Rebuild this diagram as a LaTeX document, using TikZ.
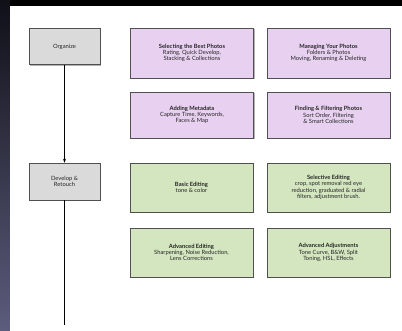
\documentclass[tikz,border=0pt]{standalone}
\usepackage{fontspec}
\setmainfont{Lato}
\usetikzlibrary{arrows.meta,shadows}
\definecolor{stagegray}{HTML}{DADADA}
\definecolor{organizepurple}{HTML}{E8D0F0}
\definecolor{developgreen}{HTML}{D3E6BF}
\definecolor{boxline}{HTML}{505050}
\definecolor{striptop}{HTML}{101018}
\definecolor{stripbottom}{HTML}{5C5C7C}
\begin{document}
\begin{tikzpicture}[x=1pt,y=1pt,yscale=-1,
	box/.style={draw=boxline,line width=0.6pt,inner sep=1pt,align=center,text=black!85,
		font=\fontsize{5.8}{6.3}\selectfont,
		drop shadow={shadow xshift=1.4pt,shadow yshift=-1.4pt,opacity=0.6}},
	stagebox/.style={box,fill=stagegray,minimum width=71pt,minimum height=36pt},
	organizebox/.style={box,fill=organizepurple,minimum width=123pt,minimum height=48pt},
	developbox/.style={box,fill=developgreen,minimum width=123pt,minimum height=49pt}]
			%set diagram frame: black screen, blue-grey strip at the left, white slide
			\fill [black] (0,0) rectangle (402,331);
			\shade [top color=striptop,bottom color=stripbottom] (0,0) rectangle (10,331);
			\fill [white] (10,6) rectangle (402,331);
			
			% Stage Nodes
			\node [stagebox] (organize) at (64.5,46.5) {Organize};
			\node [stagebox,minimum height=37pt] (develop) at (64.5,181.5) {Develop \&\\Retouch};
			\coordinate (timelineend) at (64.5,325);
			
			% Organize Nodes
			\node [organizebox,minimum height=50pt] (selecting) at (192,53) {\textbf{Selecting the Best Photos}\\Rating, Quick Develop,\\Stacking \& Collections};
			\node [organizebox,minimum height=50pt] (managing) at (328.5,53) {\textbf{Managing Your Photos}\\Folders \& Photos\\Moving, Renaming \& Deleting};
			\node [organizebox,minimum height=46pt] (metadata) at (192,115) {\textbf{Adding Metadata}\\Capture Time, Keywords,\\Faces \& Map};
			\node [organizebox,minimum height=46pt] (finding) at (328.5,115) {\textbf{Finding \& Filtering Photos}\\Sort Order, Filtering\\\& Smart Collections};
			
			% Develop Nodes
			\node [developbox] (basic) at (191.5,187.5) {\textbf{Basic Editing}\\tone \& color};
			\node [developbox] (selective) at (328.5,187.5) {\textbf{Selective Editing}\\crop, spot removal red eye\\reduction, graduated \& radial\\filters, adjustment brush.};
			\node [developbox] (advediting) at (191.5,252.5) {\textbf{Advanced Editing}\\Sharpening, Noise Reduction,\\Lens Corrections};
			\node [developbox] (advadjust) at (328.5,252.5) {\textbf{Advanced Adjustments}\\Tone Curve, B\&W, Split\\Toning, HSL, Effects};
			
			%Straight Lines
			\draw [line width=0.8pt,-{Stealth[length=4pt,width=3pt]}] (organize) -- (develop);
			%Straight Lines
			\draw [line width=0.8pt] (develop) -- (timelineend);
		\end{tikzpicture}
\end{document}
